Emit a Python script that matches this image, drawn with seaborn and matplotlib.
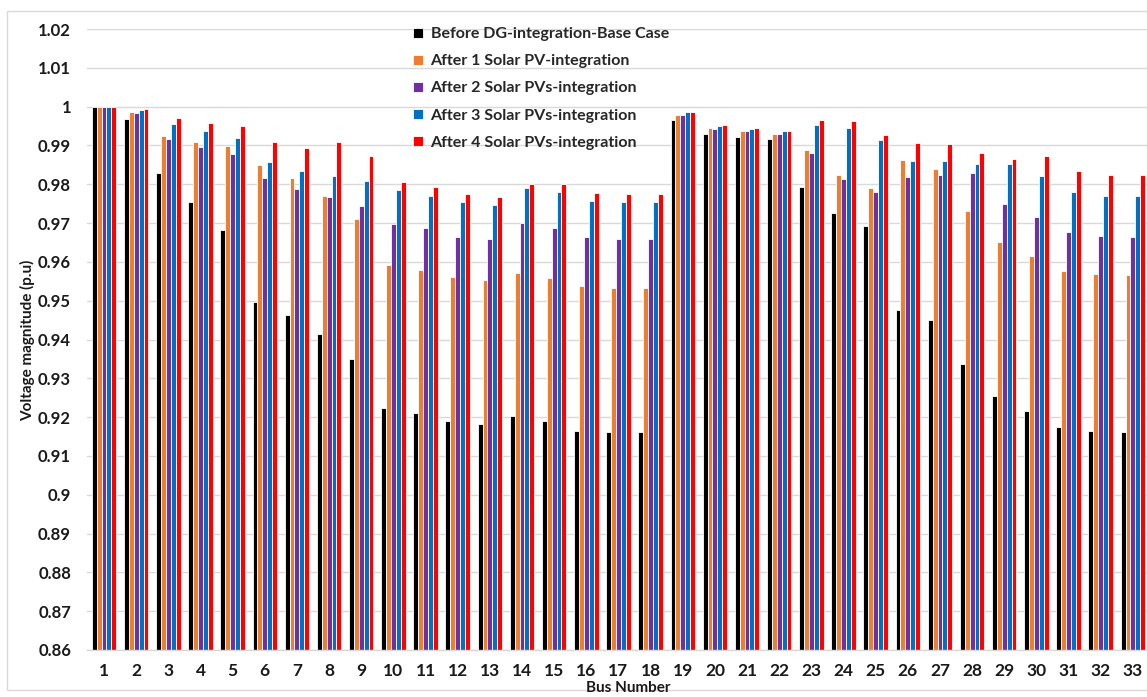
import numpy as np
import pandas as pd
import matplotlib
matplotlib.use("Agg")
import matplotlib.pyplot as plt
import seaborn as sns
from matplotlib.patches import Rectangle

buses = [str(i) for i in range(1, 34)]

series_names = [
    "Before DG-integration-Base Case",
    "After 1 Solar PV-integration",
    "After 2 Solar PVs-integration",
    "After 3 Solar PVs-integration",
    "After 4 Solar PVs-integration",
]

base_case = [1.0000, 0.9969, 0.9830, 0.9753, 0.9681, 0.9496, 0.9462, 0.9413, 0.9349, 0.9224,
             0.9210, 0.9189, 0.9183, 0.9204, 0.9189, 0.9165, 0.9162, 0.9162, 0.9966, 0.9930,
             0.9922, 0.9916, 0.9793, 0.9726, 0.9693, 0.9477, 0.9451, 0.9337, 0.9254, 0.9217,
             0.9174, 0.9165, 0.9161]
pv_1 = [1.0000, 0.9986, 0.9925, 0.9910, 0.9899, 0.9850, 0.9817, 0.9771, 0.9711, 0.9591,
        0.9580, 0.9560, 0.9554, 0.9572, 0.9558, 0.9537, 0.9532, 0.9532, 0.9979, 0.9945,
        0.9938, 0.9930, 0.9889, 0.9825, 0.9790, 0.9863, 0.9840, 0.9730, 0.9652, 0.9616,
        0.9577, 0.9569, 0.9565]
pv_2 = [1.0000, 0.9983, 0.9917, 0.9896, 0.9878, 0.9817, 0.9789, 0.9768, 0.9744, 0.9697,
        0.9686, 0.9665, 0.9660, 0.9700, 0.9686, 0.9663, 0.9660, 0.9660, 0.9979, 0.9942,
        0.9936, 0.9930, 0.9881, 0.9814, 0.9781, 0.9819, 0.9825, 0.9829, 0.9750, 0.9716,
        0.9677, 0.9667, 0.9665]
pv_3 = [1.0000, 0.9992, 0.9956, 0.9936, 0.9919, 0.9858, 0.9835, 0.9821, 0.9809, 0.9786,
        0.9771, 0.9753, 0.9747, 0.9791, 0.9780, 0.9758, 0.9753, 0.9753, 0.9986, 0.9950,
        0.9943, 0.9936, 0.9952, 0.9946, 0.9913, 0.9860, 0.9861, 0.9853, 0.9853, 0.9820,
        0.9781, 0.9771, 0.9770]
pv_4 = [1.0000, 0.9994, 0.9970, 0.9958, 0.9951, 0.9909, 0.9894, 0.9909, 0.9874, 0.9805,
        0.9794, 0.9774, 0.9768, 0.9800, 0.9800, 0.9778, 0.9774, 0.9774, 0.9987, 0.9952,
        0.9945, 0.9938, 0.9966, 0.9963, 0.9928, 0.9907, 0.9904, 0.9880, 0.9866, 0.9872,
        0.9835, 0.9825, 0.9823]

y_ticks = [0.86, 0.87, 0.88, 0.89, 0.90, 0.91, 0.92, 0.93, 0.94, 0.95, 0.96, 0.97, 0.98,
           0.99, 1.00, 1.01, 1.02]
y_tick_labels = ["0.86", "0.87", "0.88", "0.89", "0.9", "0.91", "0.92", "0.93", "0.94",
                 "0.95", "0.96", "0.97", "0.98", "0.99", "1", "1.01", "1.02"]

colors = ["#000000", "#ED7D31", "#7030A0", "#0070C0", "#FF0000"]

df = pd.DataFrame({
    "Bus": buses * 5,
    "Series": np.repeat(series_names, len(buses)),
    "Voltage": base_case + pv_1 + pv_2 + pv_3 + pv_4,
})

sns.set_theme(style="white")
plt.rcParams["font.family"] = ["Lato", "DejaVu Sans"]

fig = plt.figure(figsize=(11.47, 6.97), dpi=100)
ax = fig.add_axes([87 / 1147, 1 - 650 / 697, 1 - 87 / 1147, (650 - 29) / 697])

sns.barplot(data=df, x="Bus", y="Voltage", hue="Series", palette=colors,
            hue_order=series_names, order=buses, width=0.76, ax=ax,
            edgecolor="white", linewidth=0.6, saturation=1, legend=True)

ax.set_ylim(0.86, 1.02)
ax.set_xlim(-0.53, 32.44)
ax.set_yticks(y_ticks)
ax.set_yticklabels(y_tick_labels, fontsize=12, fontweight="bold", color="#1a1a1a")
ax.set_xticks(range(len(buses)))
ax.set_xticklabels(buses, fontsize=12.5, fontweight="bold", color="#1a1a1a")
ax.tick_params(axis="y", length=0, pad=11.5)
ax.tick_params(axis="x", length=0, pad=9)

ax.yaxis.grid(True, color="#D9D9D9", linewidth=1.0)
ax.set_axisbelow(True)
for side in ["top", "right", "left"]:
    ax.spines[side].set_visible(False)
ax.spines["bottom"].set_color("#D9D9D9")
ax.spines["bottom"].set_linewidth(1.0)

ax.set_xlabel("")
ax.set_ylabel("")
fig.text(628 / 1147, 1 - 688 / 697, "Bus Number", ha="center", va="center",
         fontsize=11, fontweight="bold", color="#1a1a1a")
fig.text(28 / 1147, 1 - 340 / 697, "Voltage magnitude (p.u)", ha="center", va="center",
         rotation=90, fontsize=11, fontweight="bold", color="#1a1a1a")

handles, labels = ax.get_legend_handles_labels()
ax.legend(handles, labels, loc="upper left", bbox_to_anchor=(0.294, 1.026),
          frameon=False, handlelength=0.6, handleheight=0.6,
          handletextpad=0.5, labelspacing=0.82, prop={"weight": "bold", "size": 11.5})

fig.patches.append(Rectangle((7 / 1147, 1 - 690 / 697), 1.2, 679 / 697,
                             transform=fig.transFigure, fill=False,
                             edgecolor="#D9D9D9", linewidth=1.0))

fig.savefig("out.png", dpi=100, facecolor="white")
